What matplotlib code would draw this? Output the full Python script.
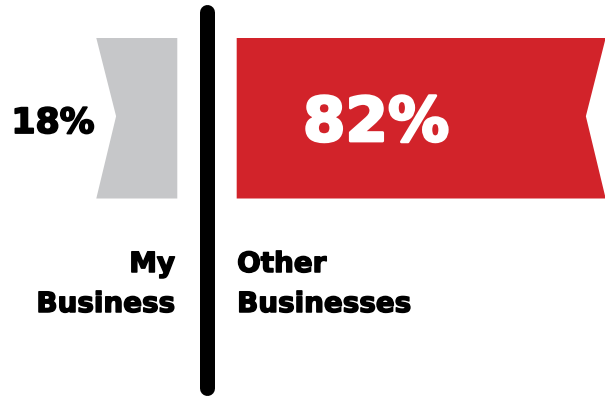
import matplotlib.pyplot as plt
import matplotlib.patheffects as pe
from matplotlib.patches import Polygon

labels = ["My\nBusiness", "Other\nBusinesses"]
shares = [18, 82]
colors = ["#C6C7C9", "#D2232A"]

gap = 6.6       # space between the divider and each bar, in percent units
notch = 4.4     # depth of the ribbon cut
y_top, y_bot = 38, 198.5
y_mid = (y_top + y_bot) / 2 - 2

plt.rcParams['font.family'] = ['DejaVu Sans']


def heavy(color, w):
    # fake a black weight by stroking the glyph outline
    return [pe.withStroke(linewidth=w, foreground=color)]


fig = plt.figure(figsize=(6.05, 3.96), dpi=100)
ax = fig.add_axes([0, 0, 1, 1])
ax.set_xlim(-46, 88.45)
ax.set_ylim(396, 0)
ax.axis('off')

# left bar grows leftwards from the divider, right bar rightwards
mine, others = shares
x0, x1 = -gap - mine, -gap
ax.add_patch(Polygon([(x0, y_top), (x1, y_top), (x1, y_bot), (x0, y_bot),
                      (x0 + notch, y_mid)], closed=True, color=colors[0], lw=0))
r0, r1 = gap, gap + others
ax.add_patch(Polygon([(r0, y_top), (r1, y_top), (r1 - notch, y_mid),
                      (r1, y_bot), (r0, y_bot)], closed=True, color=colors[1], lw=0))

# divider
ax.plot([0, 0], [11.5, 387.5], color='black', lw=10.8, solid_capstyle='round')

ax.text(x0 - 0.4, 133, f"{mine}%", ha='right', va='baseline',
        fontsize=25, fontweight='bold', color='black',
        path_effects=heavy('black', 1.3))
ax.text(r0 + 31, 141, f"{others}%", ha='center', va='baseline',
        fontsize=44, fontweight='bold', color='white',
        path_effects=heavy('white', 2.0))

left_lines = labels[0].split("\n")
right_lines = labels[1].split("\n")
for i, (a, b) in enumerate(zip(left_lines, right_lines)):
    yb = 272 + 40 * i
    ax.text(x1 - 0.5, yb, a, ha='right', va='baseline',
            fontsize=20, fontweight='bold', color='black',
            path_effects=heavy('black', 1.1))
    ax.text(r0 + 0.1, yb, b, ha='left', va='baseline',
            fontsize=20, fontweight='bold', color='black',
            path_effects=heavy('black', 1.1))

fig.savefig('out.png', dpi=100)
